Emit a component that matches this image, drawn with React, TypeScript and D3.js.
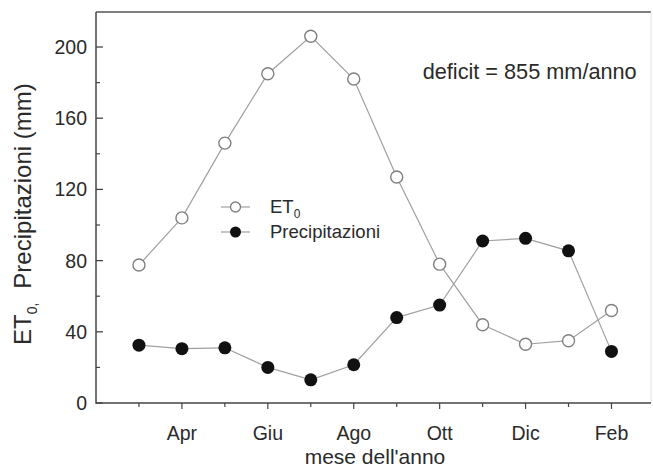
import React from "react";
import * as d3 from "d3";

const months = ["Mar", "Apr", "Mag", "Giu", "Lug", "Ago", "Set", "Ott", "Nov", "Dic", "Gen", "Feb"];
const et0 = [77.5, 104, 146, 185, 206, 182, 127, 78, 44, 33, 35, 52];
const precip = [32.5, 30.5, 31, 20, 13, 21.5, 48, 55, 91, 92.5, 85.5, 29];
const xTickLabels = ["Apr", "Giu", "Ago", "Ott", "Dic", "Feb"];
const yMajorTicks = [0, 40, 80, 120, 160, 200];
const yMinorTicks = [20, 60, 100, 140, 180];

const W = 653;
const H = 468;
const FONT = "'Liberation Sans', Arial, sans-serif";
const TXT = "#2a2a2a";

export default function App() {
  const x = d3.scaleLinear().domain([-1, 11.92]).range([96, 651]);
  const y = d3.scaleLinear().domain([0, 220]).range([403, 11.4]);
  const idx = months.map((_, i) => i);
  const line = d3
    .line<number>()
    .x((d, i) => x(i))
    .y((d) => y(d));

  const left = x(-1);
  const right = 651;
  const top = 12;
  const bottom = y(0);

  return (
    <div style={{ position: "fixed", left: 0, top: 0 }}>
      <svg width={W} height={H} style={{ display: "block", background: "#fff" }} fontFamily={FONT}>
        <rect x={0} y={0} width={W} height={H} fill="#fff" />
        {/* frame */}
        <line x1={left} x2={right} y1={top} y2={top} stroke="#555" strokeWidth={1.5} />
        <line x1={right} x2={right} y1={top} y2={bottom} stroke="#e2e2e2" strokeWidth={1} />
        <line x1={left} x2={left} y1={top} y2={bottom + 0.75} stroke="#444" strokeWidth={1.5} />
        <line x1={left} x2={right} y1={bottom} y2={bottom} stroke="#444" strokeWidth={1.5} />

        {/* y ticks */}
        {yMajorTicks.map((t) => (
          <g key={"ym" + t}>
            <line x1={left} x2={left + 7} y1={y(t)} y2={y(t)} stroke="#444" strokeWidth={1.3} />
            <text x={87} y={y(t)} dy="0.36em" textAnchor="end" fontSize={19.5} fill={TXT}>
              {t}
            </text>
          </g>
        ))}
        {yMinorTicks.map((t) => (
          <line key={"yn" + t} x1={left} x2={left + 4} y1={y(t)} y2={y(t)} stroke="#444" strokeWidth={1.2} />
        ))}

        {/* x ticks */}
        {idx.map((i) => {
          const major = xTickLabels.includes(months[i]);
          return (
            <line
              key={"xt" + i}
              x1={x(i)}
              x2={x(i)}
              y1={bottom}
              y2={bottom + (major ? 6 : 4)}
              stroke="#444"
              strokeWidth={1.2}
            />
          );
        })}
        {xTickLabels.map((m) => (
          <text key={"xl" + m} x={x(months.indexOf(m))} y={440} textAnchor="middle" fontSize={19.5} fill={TXT}>
            {m}
          </text>
        ))}

        {/* axis titles */}
        <text x={375} y={464} textAnchor="middle" fontSize={21} fill={TXT}>
          mese dell'anno
        </text>
        <text transform="translate(31,345) rotate(-90)" fontSize={24} fill={TXT}>
          ET
          <tspan fontSize={14} dy={6}>
            0,
          </tspan>
          <tspan dy={-6} dx={14}>
            Precipitazioni (mm)
          </tspan>
        </text>

        {/* series lines */}
        <path d={line(et0) || ""} fill="none" stroke="#a0a0a0" strokeWidth={1.2} />
        <path d={line(precip) || ""} fill="none" stroke="#a0a0a0" strokeWidth={1.2} />

        {/* markers */}
        {et0.map((v, i) => (
          <circle key={"e" + i} cx={x(i)} cy={y(v)} r={6} fill="#fff" stroke="#808080" strokeWidth={1.4} />
        ))}
        {precip.map((v, i) => (
          <circle key={"p" + i} cx={x(i)} cy={y(v)} r={6.5} fill="#111" />
        ))}

        {/* legend */}
        <line x1={221} x2={250} y1={207} y2={207} stroke="#a0a0a0" strokeWidth={1.2} />
        <circle cx={235.5} cy={207} r={5} fill="#fff" stroke="#808080" strokeWidth={1.4} />
        <text x={270} y={213} fontSize={18.5} fill={TXT}>
          ET
          <tspan fontSize={12} dy={5}>
            0
          </tspan>
        </text>
        <line x1={221} x2={250} y1={232} y2={232} stroke="#a0a0a0" strokeWidth={1.2} />
        <circle cx={235.5} cy={232} r={5.5} fill="#111" />
        <text x={270} y={238} fontSize={18.5} fill={TXT}>
          Precipitazioni
        </text>

        {/* annotation */}
        <text x={422.7} y={79} fontSize={21.7} fill={TXT}>
          deficit = 855 mm/anno
        </text>
      </svg>
    </div>
  );
}
